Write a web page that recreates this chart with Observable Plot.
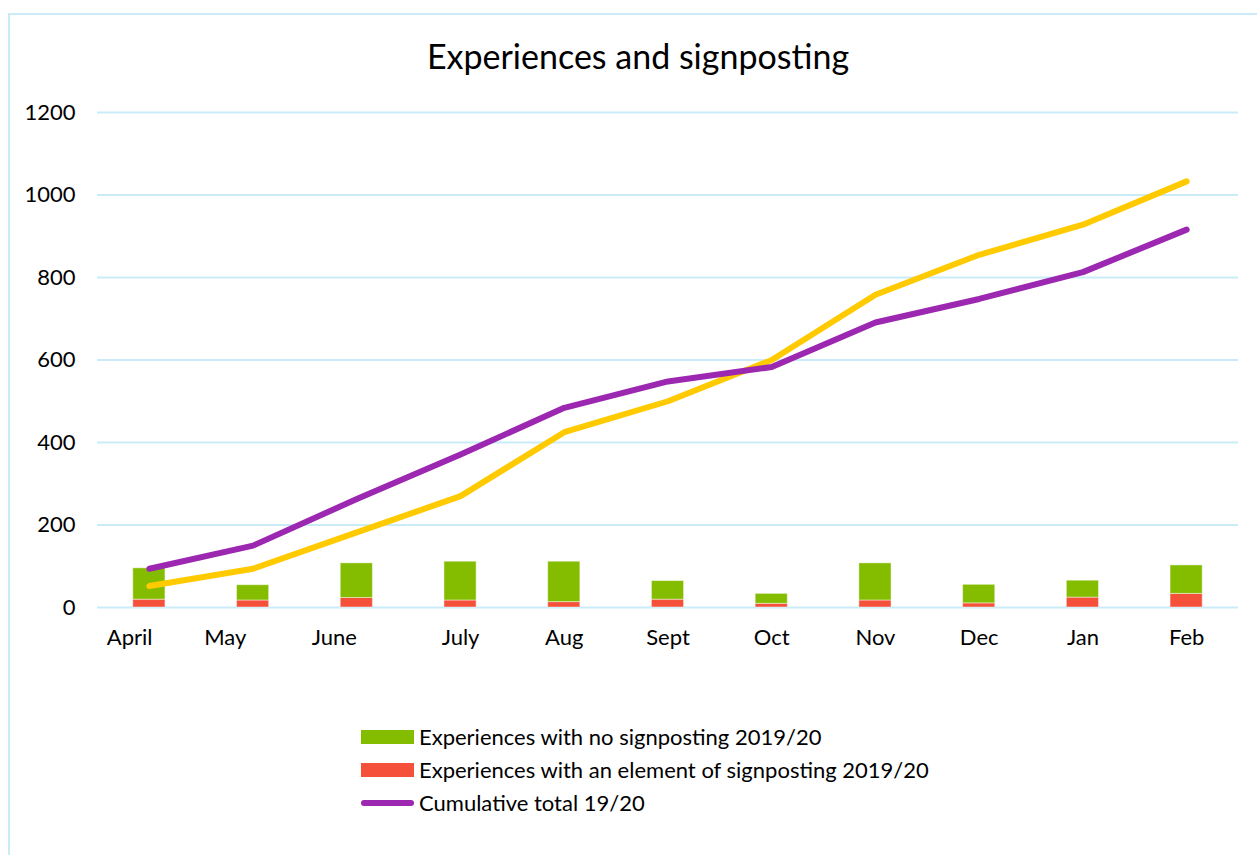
<!DOCTYPE html>
<html><head><meta charset="utf-8">
<script src="https://cdn.jsdelivr.net/npm/d3@7"></script>
<script src="https://cdn.jsdelivr.net/npm/@observablehq/plot@0.6"></script>
<style>
body{margin:0;background:#fff;font-family:Lato,sans-serif;color:#000;width:1257px;height:855px;overflow:hidden;position:relative}
#frame{position:absolute;left:8px;top:13px;width:1300px;height:900px;border:2px solid #C9ECF8;box-sizing:border-box}
#title{position:absolute;left:0;width:1276px;top:34px;text-align:center;font-size:34px;line-height:44px}
#chart{position:absolute;left:0;top:90px}
#chart svg text{white-space:pre}
#legend{position:absolute;left:361px;top:720px;font-size:22px}
.item{display:flex;align-items:center;height:33px}
.sw{width:53px;margin-right:5px;display:inline-block}
</style></head>
<body>
<div id="frame"></div>
<div id="title">Experiences and signposting</div>
<div id="chart"></div>
<div id="legend"></div>
<script>
const months = ["April","May","June","July","Aug","Sept","Oct","Nov","Dec","Jan","Feb"];
const monthLabels = ["April       ","May          ","June        ","July","Aug","Sept","Oct","Nov","Dec","Jan","Feb"];
const noSignposting = [76,37,84,94,98,45,24,90,45,41,69];
const withSignposting = [19,17,23,17,13,19,9,17,10,24,33];
const cumulative1920 = [94,150,263,371,484,548,583,691,748,813,916];
const cumulativePrev = [52,94,182,270,425,500,600,758,855,928,1033];
const yTicks = [0,200,400,600,800,1000,1200];
const seriesNames = ["Experiences with no signposting 2019/20","Experiences with an element of signposting 2019/20","Cumulative total 19/20"];
const colors = {green:"#84BD00", red:"#F4503A", purple:"#9C27B0", yellow:"#FFCA00", grid:"#C9ECF8"};

const bars = months.flatMap((m,i)=>[
  {month:m, series:seriesNames[1], value:withSignposting[i], order:0},
  {month:m, series:seriesNames[0], value:noSignposting[i], order:1}
]);
const lineA = months.map((m,i)=>({month:m, value:cumulative1920[i]}));
const lineB = months.map((m,i)=>({month:m, value:cumulativePrev[i]}));

const plot = Plot.plot({
  width:1257, height:590,
  marginLeft:97, marginRight:19, marginTop:22, marginBottom:73,
  style:{fontFamily:"Lato, sans-serif", fontSize:"22px", color:"#000", background:"transparent"},
  x:{type:"band", domain:months, paddingInner:0.69, paddingOuter:0.345, round:false, label:null},
  y:{domain:[0,1200], label:null},
  color:{domain:[seriesNames[0],seriesNames[1]], range:[colors.green, colors.red]},
  marks:[
    Plot.ruleY(yTicks, {stroke:colors.grid, strokeWidth:2}),
    Plot.barY(bars, Plot.stackY({x:"month", y:"value", fill:"series", order:"order", stroke:"#ffffff", strokeOpacity:0.45, strokeWidth:1})),
    Plot.line(lineB, {x:"month", y:"value", stroke:colors.yellow, strokeWidth:6, strokeLinecap:"round", strokeLinejoin:"round"}),
    Plot.line(lineA, {x:"month", y:"value", stroke:colors.purple, strokeWidth:6, strokeLinecap:"round", strokeLinejoin:"round"}),
    Plot.axisY({ticks:yTicks, tickSize:0, tickPadding:22, label:null, tickFormat:(d)=>String(d)}),
    Plot.axisX({tickSize:0, tickPadding:22, label:null, tickFormat:(d)=>monthLabels[months.indexOf(d)]})
  ]
});
document.getElementById("chart").appendChild(plot);

const legend = document.getElementById("legend");
const swatches = [
  `<span class="sw" style="height:14px;background:${colors.green}"></span>`,
  `<span class="sw" style="height:14px;background:${colors.red}"></span>`,
  `<span class="sw" style="height:6px;border-radius:3px;background:${colors.purple}"></span>`
];
seriesNames.forEach((n,i)=>{
  const d=document.createElement("div"); d.className="item";
  d.innerHTML = swatches[i] + `<span>${n}</span>`;
  legend.appendChild(d);
});
</script>
</body></html>
